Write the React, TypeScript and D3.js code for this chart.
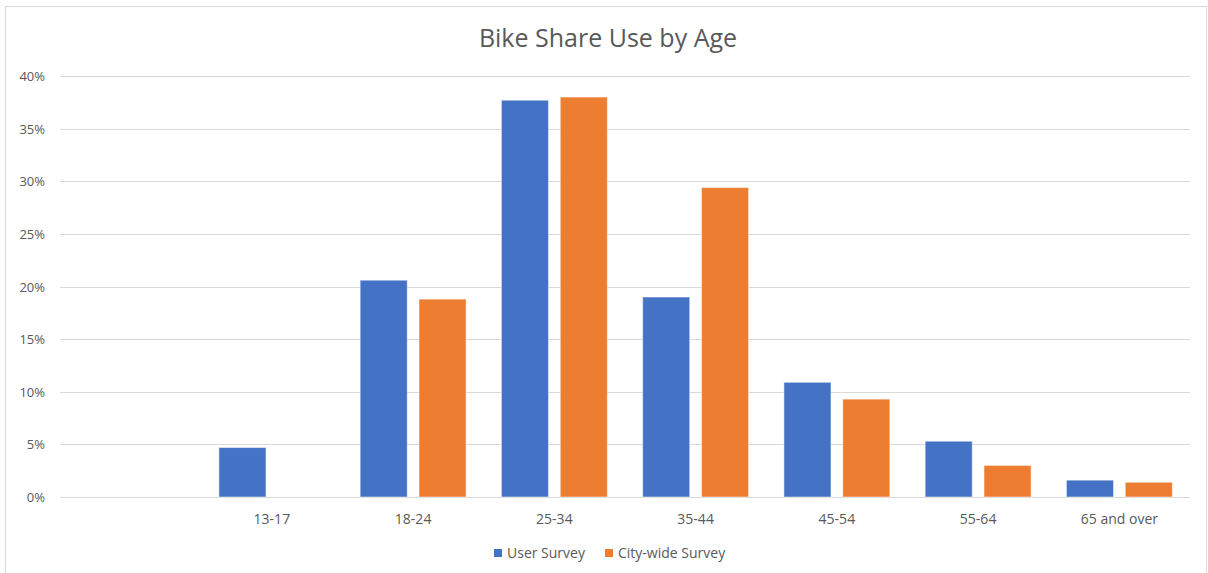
import React, { useEffect, useRef } from 'react';
import * as d3 from 'd3';

const categories = ['', '13-17', '18-24', '25-34', '35-44', '45-54', '55-64', '65 and over'];
const seriesNames = ['User Survey', 'City-wide Survey'];
const userSurvey = [0, 4.7, 20.6, 37.7, 19.0, 10.9, 5.3, 1.6];
const cityWideSurvey = [0, 0, 18.8, 38.0, 29.4, 9.3, 3.0, 1.4];
const yTicks = [0, 5, 10, 15, 20, 25, 30, 35, 40];
const colors = ['#4472C4', '#ED7D31'];

const font = '"Open Sans", Lato, sans-serif';

function App() {
  const svgRef = useRef<SVGSVGElement>(null);

  useEffect(() => {
    const width = 1208;
    const height = 573;
    const margin = { top: 76, right: 18, bottom: 76, left: 60 };

    const svg = d3.select(svgRef.current);
    svg.selectAll('*').remove();
    svg.attr('width', width).attr('height', height);

    // chart frame
    svg
      .append('rect')
      .attr('x', 5.5)
      .attr('y', 6.5)
      .attr('width', 1201)
      .attr('height', 600)
      .attr('fill', '#fff')
      .attr('stroke', '#d9d9d9');

    svg
      .append('text')
      .attr('x', 608)
      .attr('y', 47)
      .attr('text-anchor', 'middle')
      .style('font-family', font)
      .style('font-size', '25px')
      .style('fill', '#595959')
      .text('Bike Share Use by Age');

    const x0 = d3
      .scaleBand()
      .domain(categories.map((c, i) => String(i)))
      .range([margin.left, width - margin.right])
      .padding(0);

    const x1 = d3
      .scaleBand()
      .domain(seriesNames)
      .range([0, x0.bandwidth()])
      .paddingInner(0.2)
      .paddingOuter(0.3);

    const y = d3
      .scaleLinear()
      .domain([0, 40])
      .range([height - margin.bottom, margin.top]);

    // grid
    svg
      .append('g')
      .selectAll('line')
      .data(yTicks)
      .join('line')
      .attr('x1', margin.left)
      .attr('x2', width - margin.right)
      .attr('y1', (d) => Math.round(y(d)) + 0.5)
      .attr('y2', (d) => Math.round(y(d)) + 0.5)
      .attr('stroke', '#d9d9d9')
      .attr('stroke-width', 1);

    svg
      .append('g')
      .selectAll('text')
      .data(yTicks)
      .join('text')
      .attr('x', 45)
      .attr('y', (d) => y(d) + 5)
      .attr('text-anchor', 'end')
      .style('font-family', font)
      .style('font-size', '13px')
      .style('fill', '#595959')
      .text((d) => d + '%');

    const rows = categories.map((c, i) => ({
      key: String(i),
      values: [userSurvey[i], cityWideSurvey[i]],
    }));

    const groups = svg
      .append('g')
      .selectAll('g')
      .data(rows)
      .join('g')
      .attr('transform', (d) => `translate(${x0(d.key)},0)`);

    groups
      .selectAll('rect')
      .data((d) => d.values.map((v, j) => ({ name: seriesNames[j], value: v, j })))
      .join('rect')
      .filter((d) => d.value > 0)
      .attr('x', (d) => x1(d.name)!)
      .attr('width', x1.bandwidth())
      .attr('y', (d) => y(d.value))
      .attr('height', (d) => y(0) - y(d.value))
      .attr('fill', (d) => colors[d.j])
      .attr('stroke', '#fff')
      .attr('stroke-opacity', 0.5)
      .attr('stroke-width', 1);

    // x labels
    svg
      .append('g')
      .selectAll('text')
      .data(categories)
      .join('text')
      .attr('x', (d, i) => x0(String(i))! + x0.bandwidth() / 2)
      .attr('y', 524)
      .attr('text-anchor', 'middle')
      .style('font-family', font)
      .style('font-size', '14px')
      .style('fill', '#595959')
      .text((d) => d);

    // legend
    const legendX = [494, 605];
    const legend = svg
      .append('g')
      .selectAll('g')
      .data(seriesNames)
      .join('g')
      .attr('transform', (d, i) => `translate(${legendX[i]},549)`);
    legend
      .append('rect')
      .attr('width', 8)
      .attr('height', 8)
      .attr('fill', (d, i) => colors[i]);
    legend
      .append('text')
      .attr('x', 13)
      .attr('y', 9)
      .style('font-family', font)
      .style('font-size', '14px')
      .style('fill', '#595959')
      .text((d) => d);
  }, []);

  return <svg ref={svgRef} style={{ position: 'absolute', left: 0, top: 0 }}></svg>;
}

export default App;
